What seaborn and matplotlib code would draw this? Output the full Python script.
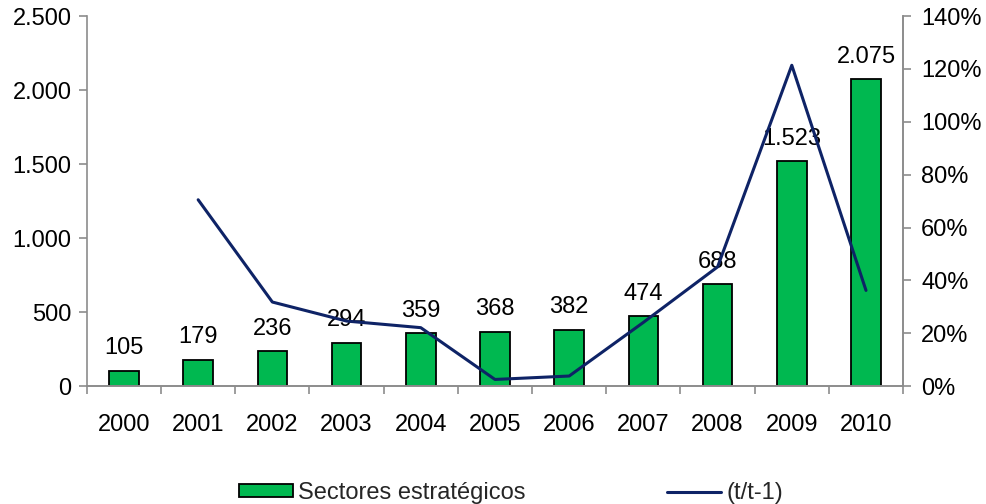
import numpy as np
import pandas as pd
import matplotlib
matplotlib.use("Agg")
import matplotlib.pyplot as plt
import seaborn as sns
from matplotlib.ticker import FuncFormatter, MultipleLocator, FixedLocator
from matplotlib.patches import Patch
from matplotlib.lines import Line2D

years = ["2000", "2001", "2002", "2003", "2004", "2005", "2006", "2007", "2008", "2009", "2010"]
sectores = [105, 179, 236, 294, 359, 368, 382, 474, 688, 1523, 2075]
growth = [np.nan, 70.5, 31.8, 24.6, 22.1, 2.5, 3.8, 24.1, 45.1, 121.4, 36.2]
bar_labels = ["105", "179", "236", "294", "359", "368", "382", "474", "688", "1.523", "2.075"]

sns.set_theme(style="white")
plt.rcParams['font.family'] = ['Liberation Sans', 'DejaVu Sans']

df = pd.DataFrame({"year": years, "value": sectores, "growth": growth})
df["pos"] = np.arange(len(df))

green = "#00B850"
navy = "#0E2366"
gray = "#8C8C8C"
fs = 17

fig = plt.figure(figsize=(9.87, 5.04), dpi=100)
ax = fig.add_axes([0.088, 0.234, 0.827, 0.734])

sns.barplot(data=df, x="year", y="value", color=green, edgecolor="black",
            linewidth=1.3, width=0.4, saturation=1, ax=ax)
for p in ax.patches:
    p.set_facecolor(green)
ax.bar_label(ax.containers[0], labels=bar_labels, padding=8, fontsize=fs, color="black")

ax.set_ylim(0, 2500)
ax.set_xlim(-0.5, 10.5)
ax.yaxis.set_major_locator(MultipleLocator(500))
ax.yaxis.set_major_formatter(FuncFormatter(lambda v, p: f"{int(v):,}".replace(",", ".")))
ax.xaxis.set_minor_locator(FixedLocator(np.arange(-0.5, 11, 1.0)))
ax.set_xlabel("")
ax.set_ylabel("")

ax2 = ax.twinx()
sns.lineplot(data=df, x="pos", y="growth", color=navy, linewidth=2.2, ax=ax2)
ax2.set_ylim(0, 140)
ax2.yaxis.set_major_locator(MultipleLocator(20))
ax2.yaxis.set_major_formatter(FuncFormatter(lambda v, p: f"{int(v)}%"))
ax2.set_ylabel("")
ax2.set_xlim(-0.5, 10.5)

for a in (ax, ax2):
    for s in a.spines.values():
        s.set_color(gray)
        s.set_linewidth(1.2)
    a.spines["top"].set_visible(False)
ax.spines["right"].set_visible(True)
ax2.spines["left"].set_visible(False)

ax.tick_params(axis="y", left=True, length=6, width=1.2, color=gray, labelsize=fs, labelcolor="black", pad=5)
ax.tick_params(axis="x", which="major", bottom=False, labelsize=fs, labelcolor="black", pad=14)
ax.tick_params(axis="x", which="minor", bottom=True, length=6, width=1.2, color=gray)
ax2.tick_params(axis="y", right=True, length=6, width=1.2, color=gray, labelsize=fs, labelcolor="black", pad=7)

handles = [Patch(facecolor=green, edgecolor="black", linewidth=1.3),
           Line2D([0], [0], color=navy, linewidth=2.2)]
fig.legend(handles, ["Sectores estratégicos", "(t/t-1)"], loc="center",
           bbox_to_anchor=(0.5177, 0.022), ncol=2, frameon=False, fontsize=fs,
           handlelength=2.29, handleheight=0.45, handletextpad=0.21, columnspacing=6.0,
           borderaxespad=0)

fig.savefig("out.png", dpi=100)
